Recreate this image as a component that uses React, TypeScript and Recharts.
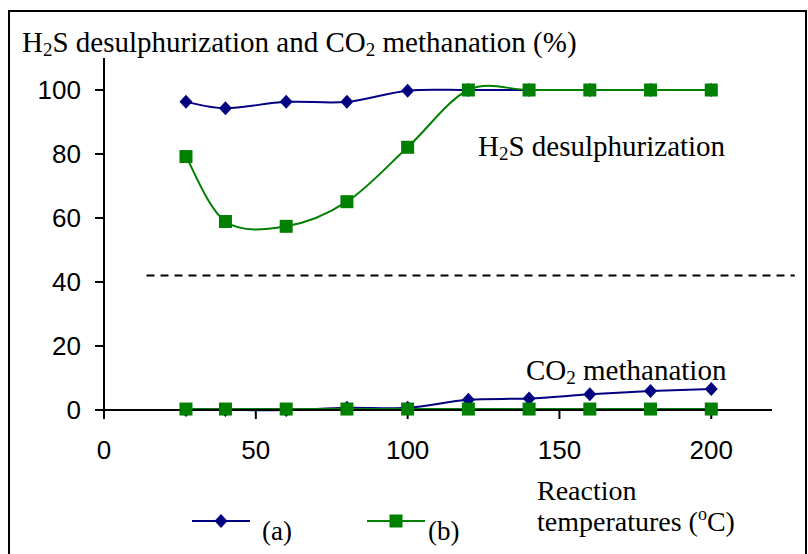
import React from "react";
import { LineChart, Line, XAxis, YAxis, ReferenceLine } from "recharts";

const temps = [27, 40, 60, 80, 100, 120, 140, 160, 180, 200];
const aDesulf = [96.3, 94.3, 96.3, 96.3, 99.8, 100, 100, 100, 100, 100];
const aMethan = [0, 0, 0, 0.7, 0.7, 3.2, 3.6, 4.9, 5.9, 6.6];
const bDesulf = [79.2, 58.9, 57.4, 65.1, 82.1, 100, 100, 100, 100, 100];
const bMethan = [0.3, 0.3, 0.3, 0.3, 0.3, 0.3, 0.3, 0.3, 0.3, 0.3];
const xTicks = [0, 50, 100, 150, 200];
const yTicks = [0, 20, 40, 60, 80, 100];
const dashLevel = 42;

const rows = temps.map((t, i) => ({
  t,
  aDesulf: aDesulf[i],
  aMethan: aMethan[i],
  bDesulf: bDesulf[i],
  bMethan: bMethan[i],
}));

const BLUE = "#000080";
const GREEN = "#008000";
const SERIF = "'Liberation Serif', 'Times New Roman', serif";
const SANS = "'Liberation Sans', Arial, sans-serif";

// excel-like smoothed line (catmull-rom through the points)
const excelSmooth = (context: any) => {
  let pts: number[][] = [];
  return {
    areaStart() {},
    areaEnd() {},
    lineStart() {
      pts = [];
    },
    point(x: number, y: number) {
      pts.push([+x, +y]);
    },
    lineEnd() {
      if (!pts.length) return;
      context.moveTo(pts[0][0], pts[0][1]);
      for (let i = 0; i < pts.length - 1; i++) {
        const p0 = pts[i - 1] || pts[i];
        const p1 = pts[i];
        const p2 = pts[i + 1];
        const p3 = pts[i + 2] || p2;
        context.bezierCurveTo(
          p1[0] + (p2[0] - p0[0]) / 6,
          p1[1] + (p2[1] - p0[1]) / 6,
          p2[0] - (p3[0] - p1[0]) / 6,
          p2[1] - (p3[1] - p1[1]) / 6,
          p2[0],
          p2[1]
        );
      }
    },
  };
};

const diamond = (props: any) => {
  const { cx, cy, key } = props;
  return (
    <polygon
      key={key}
      points={`${cx},${cy - 7} ${cx + 6.5},${cy} ${cx},${cy + 7} ${cx - 6.5},${cy}`}
      fill={BLUE}
    />
  );
};

const square = (props: any) => {
  const { cx, cy, key } = props;
  return <rect key={key} x={cx - 6.5} y={cy - 6.5} width={13} height={13} fill={GREEN} />;
};

export default function App() {
  return (
    <div style={{ position: "absolute", left: 0, top: 0, width: 808, height: 554, background: "#fff" }}>
      <LineChart
        width={808}
        height={554}
        data={rows}
        margin={{ top: 58, right: 36, bottom: 94, left: 0 }}
      >
        <rect x={9} y={11} width={797} height={600} fill="none" stroke="#000" strokeWidth={2} />
        <XAxis
          dataKey="t"
          type="number"
          domain={[0, 220]}
          ticks={xTicks}
          height={50}
          tickSize={9}
          tickMargin={22}
          axisLine={{ stroke: "#000", strokeWidth: 2 }}
          tickLine={{ stroke: "#000", strokeWidth: 2 }}
          tick={{ fill: "#000", fontSize: 26, fontFamily: SANS }}
        />
        <YAxis
          type="number"
          domain={[0, 110]}
          ticks={yTicks}
          width={104}
          tickSize={9}
          tickMargin={14}
          axisLine={{ stroke: "#000", strokeWidth: 2 }}
          tickLine={{ stroke: "#000", strokeWidth: 2 }}
          tick={{ fill: "#000", fontSize: 26, fontFamily: SANS }}
        />
        <ReferenceLine
          segment={[
            { x: 14, y: dashLevel },
            { x: 227.5, y: dashLevel },
          ]}
          ifOverflow="visible"
          stroke="#000"
          strokeWidth={2}
          strokeDasharray="8 6"
        />
        <Line dataKey="aDesulf" type={excelSmooth as any} stroke={BLUE} strokeWidth={2} dot={diamond} isAnimationActive={false} />
        <Line dataKey="aMethan" type={excelSmooth as any} stroke={BLUE} strokeWidth={2} dot={diamond} isAnimationActive={false} />
        <Line dataKey="bDesulf" type={excelSmooth as any} stroke={GREEN} strokeWidth={2} dot={square} isAnimationActive={false} />
        <Line dataKey="bMethan" type={excelSmooth as any} stroke={GREEN} strokeWidth={2} dot={square} isAnimationActive={false} />

        <text x={22} y={52} fontSize={29} fontFamily={SERIF} fill="#000">
          H<tspan fontSize={19} dy={4}>2</tspan>
          <tspan dy={-4}>S desulphurization and CO</tspan>
          <tspan fontSize={19} dy={4}>2</tspan>
          <tspan dy={-4}> methanation (%)</tspan>
        </text>
        <text x={478} y={156} fontSize={29} fontFamily={SERIF} fill="#000">
          H<tspan fontSize={19} dy={4}>2</tspan>
          <tspan dy={-4}>S desulphurization</tspan>
        </text>
        <text x={526} y={380} fontSize={29} fontFamily={SERIF} fill="#000">
          CO<tspan fontSize={19} dy={4}>2</tspan>
          <tspan dy={-4}> methanation</tspan>
        </text>
        <text x={537} y={500} fontSize={28} fontFamily={SERIF} fill="#000">
          Reaction
        </text>
        <text x={537} y={531} fontSize={28} fontFamily={SERIF} fill="#000">
          temperatures (<tspan fontSize={18} dy={-11}>o</tspan>
          <tspan dy={11}>C)</tspan>
        </text>

        <line x1={192} y1={521} x2={250} y2={521} stroke={BLUE} strokeWidth={2} />
        <polygon points="221,514 227.5,521 221,528 214.5,521" fill={BLUE} />
        <text x={262} y={540} fontSize={27} fontFamily={SERIF} fill="#000">
          (a)
        </text>
        <line x1={367} y1={521} x2={425} y2={521} stroke={GREEN} strokeWidth={2} />
        <rect x={389.5} y={514.5} width={13} height={13} fill={GREEN} />
        <text x={428} y={540} fontSize={27} fontFamily={SERIF} fill="#000">
          (b)
        </text>
      </LineChart>
    </div>
  );
}
